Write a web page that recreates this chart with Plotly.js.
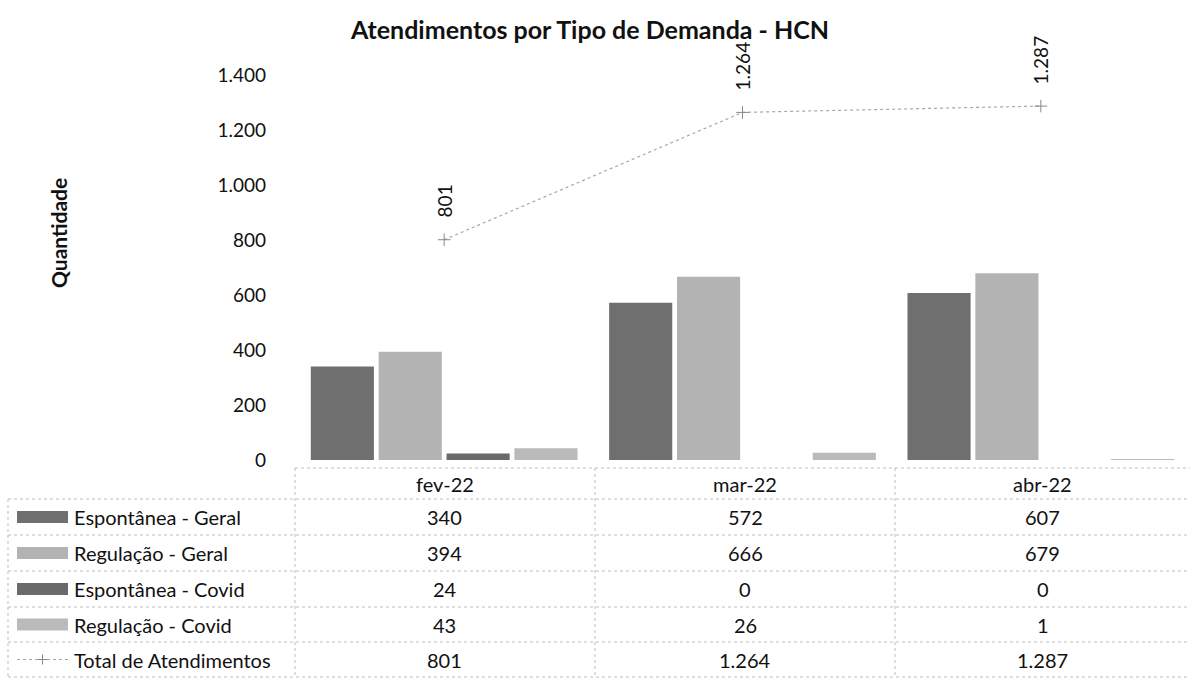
<!DOCTYPE html>
<html>
<head>
<meta charset="utf-8">
<script src="https://cdn.plot.ly/plotly-3.0.1.min.js"></script>
<style>html,body{margin:0;padding:0;background:#fff;}#chart{width:1192px;height:681px;}</style>
</head>
<body>
<div id="chart"></div>
<script>
// ---- data ----
const months = ['fev-22', 'mar-22', 'abr-22'];
const espontaneaGeral = [340, 572, 607];
const regulacaoGeral = [394, 666, 679];
const espontaneaCovid = [24, 0, 0];
const regulacaoCovid = [43, 26, 1];
const totalAtendimentos = [801, 1264, 1287];
const seriesNames = ['Espontânea - Geral', 'Regulação - Geral', 'Espontânea - Covid', 'Regulação - Covid', 'Total de Atendimentos'];
const yTickVals = [0, 200, 400, 600, 800, 1000, 1200, 1400];

// ---- helpers ----
const W = 1192, H = 681;
const px = x => x / W;
const py = y => 1 - y / H;
const fmt = n => String(n).replace(/\B(?=(\d{3})+(?!\d))/g, '.');
const FONT = 'Lato, "Open Sans", sans-serif';
const darkGray = '#6f6f6f';
const lightGray = '#b3b3b3';
const barColors = [darkGray, lightGray, '#6a6a6a', '#bababa'];
const lineColor = '#a8a8a8';

const barSeries = [espontaneaGeral, regulacaoGeral, espontaneaCovid, regulacaoCovid];
const traces = barSeries.map((vals, i) => ({
  type: 'bar', x: months, y: vals, name: seriesNames[i],
  marker: {color: barColors[i]}, hoverinfo: 'x+y+name'
}));
traces.push({
  type: 'scatter', mode: 'lines+markers', x: months, y: totalAtendimentos,
  name: seriesNames[4], line: {color: lineColor, width: 1.2, dash: 'dot'},
  marker: {symbol: 'cross-thin', size: 9, line: {color: '#888', width: 1}},
  cliponaxis: false
});

// ---- table (shapes + annotations) ----
const colEdges = [8, 295, 595, 895, 1190];
const rowEdges = [468, 499, 535, 571, 607, 642, 677];
const gridLine = {color: '#bdbdbd', width: 1, dash: 'dot'};
const TFONT = {family: FONT, size: 20, color: '#111'};
const shapes = [];
const annotations = [];

rowEdges.forEach((y, i) => {
  const x0 = i === 0 ? colEdges[1] : colEdges[0];
  shapes.push({type: 'line', xref: 'paper', yref: 'paper', x0: px(x0), x1: px(colEdges[4]), y0: py(y), y1: py(y), line: gridLine});
});
colEdges.slice(0, 4).forEach((x, i) => {
  const y0 = i === 0 ? rowEdges[1] : rowEdges[0];
  shapes.push({type: 'line', xref: 'paper', yref: 'paper', x0: px(x), x1: px(x), y0: py(y0), y1: py(rowEdges[6]), line: gridLine});
});

months.forEach((m, j) => {
  annotations.push({xref: 'paper', yref: 'paper', x: px((colEdges[j + 1] + colEdges[j + 2]) / 2), y: py((rowEdges[0] + rowEdges[1]) / 2),
    text: m, showarrow: false, xanchor: 'center', yanchor: 'middle', font: TFONT});
});
const allSeries = [espontaneaGeral, regulacaoGeral, espontaneaCovid, regulacaoCovid, totalAtendimentos];
allSeries.forEach((vals, r) => {
  const yc = (rowEdges[r + 1] + rowEdges[r + 2]) / 2;
  annotations.push({xref: 'paper', yref: 'paper', x: px(72), y: py(yc), text: seriesNames[r], showarrow: false,
    xanchor: 'left', yanchor: 'middle', font: TFONT});
  if (r < 4) {
    shapes.push({type: 'rect', xref: 'paper', yref: 'paper', x0: px(17), x1: px(68), y0: py(yc - 6), y1: py(yc + 6),
      fillcolor: barColors[r], line: {width: 0}});
  } else {
    shapes.push({type: 'line', xref: 'paper', yref: 'paper', x0: px(17), x1: px(68), y0: py(yc), y1: py(yc),
      line: {color: lineColor, width: 1.2, dash: 'dot'}});
    shapes.push({type: 'line', xref: 'paper', yref: 'paper', x0: px(42.5), x1: px(42.5), y0: py(yc - 5), y1: py(yc + 5),
      line: {color: '#888', width: 1}});
    shapes.push({type: 'line', xref: 'paper', yref: 'paper', x0: px(37.5), x1: px(47.5), y0: py(yc), y1: py(yc),
      line: {color: '#888', width: 1}});
  }
  vals.forEach((v, j) => {
    annotations.push({xref: 'paper', yref: 'paper', x: px((colEdges[j + 1] + colEdges[j + 2]) / 2), y: py(yc),
      text: fmt(v), showarrow: false, xanchor: 'center', yanchor: 'middle', font: TFONT});
  });
});

// rotated data labels for total line
totalAtendimentos.forEach((v, j) => {
  annotations.push({xref: 'x', yref: 'y', x: months[j], y: v, text: fmt(v), textangle: -90, showarrow: false,
    xanchor: 'center', yanchor: 'bottom', yshift: 20, font: {family: FONT, size: 19, color: '#111'}});
});

// y axis title
annotations.push({xref: 'paper', yref: 'paper', x: px(58), y: py(233), text: '<b>Quantidade</b>', textangle: -90,
  showarrow: false, xanchor: 'center', yanchor: 'middle', font: {family: FONT, size: 21, color: '#111'}});

const layout = {
  width: W, height: H,
  margin: {l: 0, r: 0, t: 0, b: 0},
  paper_bgcolor: '#fff', plot_bgcolor: '#fff',
  separators: ',.',
  showlegend: false,
  barmode: 'group', bargap: 0.09, bargroupgap: 0.07,
  title: {text: '<b>Atendimentos por Tipo de Demanda - HCN</b>', x: px(590), xanchor: 'center', y: py(30), yanchor: 'middle',
    font: {family: FONT, size: 25, color: '#111'}},
  xaxis: {domain: [px(295), px(1190)], showticklabels: false, showgrid: false, zeroline: false, showline: false, ticks: ''},
  yaxis: {domain: [py(460), py(75)], range: [0, 1400], tickvals: yTickVals, tickformat: ',d',
    showgrid: false, zeroline: false, showline: false, ticks: '', ticklabelstandoff: 28,
    tickfont: {family: FONT, size: 19, color: '#111'}},
  shapes: shapes,
  annotations: annotations
};

Plotly.newPlot('chart', traces, layout, {displayModeBar: false, responsive: false});
</script>
</body>
</html>
